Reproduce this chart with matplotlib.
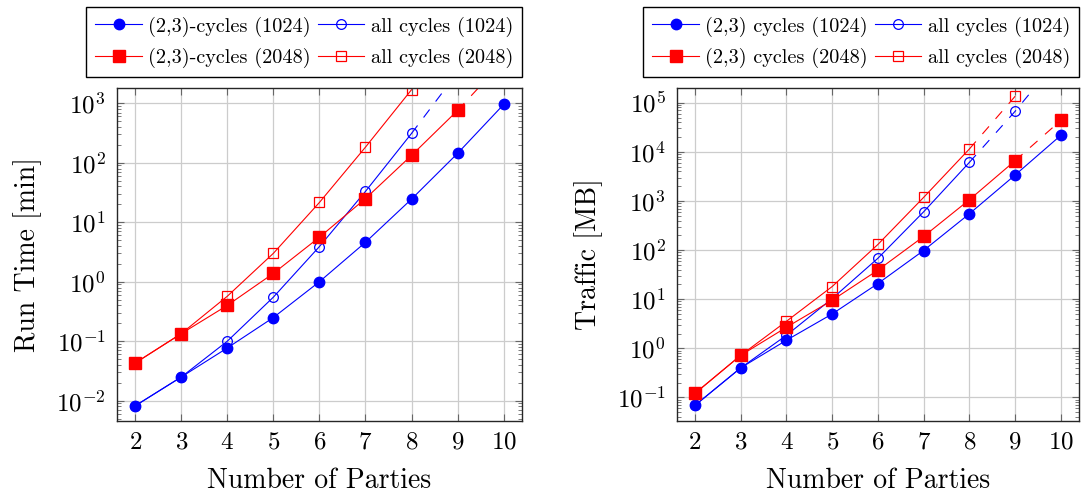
import numpy as np
import matplotlib
matplotlib.use("Agg")
import matplotlib.pyplot as plt
from matplotlib.ticker import LogLocator, NullFormatter

plt.rcParams['font.family'] = ['cmr10']
plt.rcParams['mathtext.fontset'] = 'cm'
plt.rcParams['axes.formatter.use_mathtext'] = True

# number of parties
parties = [2, 3, 4, 5, 6, 7, 8, 9, 10]

# run time [min]
rt_23_1024 = [0.0082, 0.025, 0.077, 0.25, 1.0, 4.6, 24.5, 144, 955]
rt_all_1024 = [0.0082, 0.025, 0.10, 0.55, 3.9, 33, 311]
rt_all_1024_est = [311, 3300]                 # parties 8 -> 9
rt_23_2048 = [0.043, 0.134, 0.40, 1.38, 5.6, 25, 133, 758]
rt_23_2048_est = [758, 5200]                  # parties 9 -> 10
rt_all_2048 = [0.043, 0.134, 0.57, 3.0, 21.5, 183, 1690]

# traffic [MB]
tr_23_1024 = [0.069, 0.40, 1.46, 5.0, 20.8, 98, 547, 3360, 21600]
tr_all_1024 = [0.069, 0.40, 1.84, 10.3, 68, 600, 6080]
tr_all_1024_est = [6080, 66600, 900000]       # parties 8 -> 10
tr_23_2048 = [0.121, 0.72, 2.68, 9.5, 39, 189, 1055, 6580]
tr_23_2048_est = [6580, 43600]                # parties 9 -> 10
tr_all_2048 = [0.121, 0.72, 3.55, 18.1, 130, 1180, 11400]
tr_all_2048_est = [11400, 134500, 1700000]    # parties 8 -> 10

BLUE = (0, 0, 1)
RED = (1, 0, 0)
DASH = (0, (9, 9))


def style_axes(ax, ylim, ylabel):
    ax.set_yscale('log')
    ax.set_xlim(1.6, 10.4)
    ax.set_ylim(*ylim)
    ax.set_xticks(parties)
    ax.yaxis.set_major_locator(LogLocator(base=10, numticks=20))
    ax.yaxis.set_minor_locator(LogLocator(base=10, subs=np.arange(2, 10), numticks=20))
    ax.yaxis.set_minor_formatter(NullFormatter())
    ax.xaxis.offsetText.set_visible(False)
    ax.yaxis.offsetText.set_visible(False)
    ax.grid(True, which='major', color='0.8', linewidth=0.9)
    ax.set_axisbelow(True)
    ax.tick_params(which='both', direction='in', top=True, right=True,
                   color='0.4', labelsize=18, pad=8)
    ax.tick_params(which='major', length=5, width=0.8)
    ax.tick_params(which='minor', length=3, width=0.6)
    for s in ax.spines.values():
        s.set_linewidth(1.0)
        s.set_color('0.15')
    ax.set_xlabel('Number of Parties', fontsize=20, labelpad=10)
    ax.set_ylabel(ylabel, fontsize=20, labelpad=10)


fig = plt.figure(figsize=(10.84, 5.0), dpi=100)
ax1 = fig.add_axes([0.1077, 0.1586, 0.3739, 0.6654])
ax2 = fig.add_axes([0.6243, 0.1586, 0.3711, 0.6654])

lw = 0.8
for ax, d, lab in [
    (ax1, (rt_23_1024, rt_all_1024, rt_23_2048, rt_all_2048), '(2,3)-cycles'),
    (ax2, (tr_23_1024, tr_all_1024, tr_23_2048, tr_all_2048), '(2,3) cycles'),
]:
    a, b, c, e = d
    h2, = ax.plot(parties[:len(b)], b, color=BLUE, lw=lw, marker='o', ms=7,
                  mfc='none', mew=0.9, label='all cycles (1024)')
    h1, = ax.plot(parties[:len(a)], a, color=BLUE, lw=lw, marker='o', ms=7.5,
                  label=lab + ' (1024)')
    h3, = ax.plot(parties[:len(c)], c, color=RED, lw=lw, marker='s', ms=8,
                  label=lab + ' (2048)')
    h4, = ax.plot(parties[:len(e)], e, color=RED, lw=lw, marker='s', ms=7.5,
                  mfc='none', mew=0.9, label='all cycles (2048)')
    ax.legend(handles=[h1, h3, h2, h4], ncol=2, loc='lower right',
              bbox_to_anchor=(1.0, 1.033), borderaxespad=0, fontsize=14.6,
              frameon=True, fancybox=False, edgecolor='black', framealpha=1,
              handlelength=2.3, handletextpad=0.3, columnspacing=0.35,
              labelspacing=0.55, borderpad=0.45)

# estimated (dashed) continuations
ax1.plot(parties[6:8], rt_all_1024_est, color=BLUE, lw=lw, ls=DASH,
         marker='o', ms=7, mfc='none', mew=0.9, markevery=[1])
ax1.plot(parties[7:9], rt_23_2048_est, color=RED, lw=lw, ls=DASH,
         marker='s', ms=8, markevery=[1])
ax2.plot(parties[6:9], tr_all_1024_est, color=BLUE, lw=lw, ls=DASH,
         marker='o', ms=7, mfc='none', mew=0.9, markevery=[1, 2])
ax2.plot(parties[6:9], tr_all_2048_est, color=RED, lw=lw, ls=DASH,
         marker='s', ms=7.5, mfc='none', mew=0.9, markevery=[1, 2])
ax2.plot(parties[7:9], tr_23_2048_est, color=RED, lw=lw, ls=DASH,
         marker='s', ms=8, markevery=[1])

style_axes(ax1, (10 ** -2.336, 10 ** 3.257), 'Run Time [min]')
style_axes(ax2, (10 ** -1.474, 10 ** 5.30), 'Traffic [MB]')

fig.savefig('out.png', dpi=100)
